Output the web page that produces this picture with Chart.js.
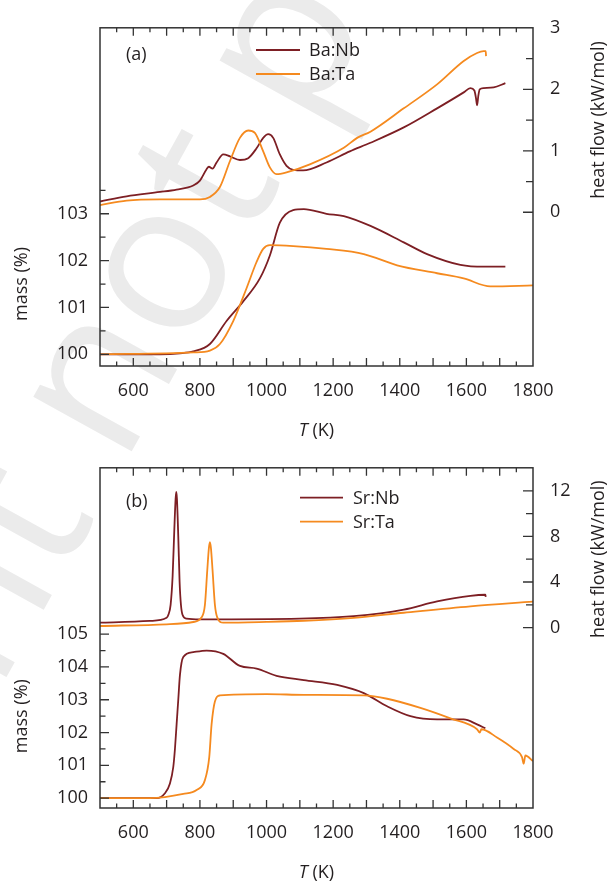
<!DOCTYPE html>
<html>
<head>
<meta charset="utf-8">
<script src="https://cdn.jsdelivr.net/npm/chart.js@4.4.1/dist/chart.umd.min.js"></script>
<style>
  html, body { margin: 0; padding: 0; background: #fff; }
  #wrap { position: relative; width: 608px; height: 882px; overflow: hidden; }
  #wm { position: absolute; left: 0; top: 0; }
  #ca { position: absolute; left: 0; top: 0; }
  #cb { position: absolute; left: 0; top: 440px; }
</style>
</head>
<body>
<div id="wrap">
  <canvas id="wm" width="608" height="882"></canvas>
  <canvas id="ca" width="608" height="440"></canvas>
  <canvas id="cb" width="608" height="442"></canvas>
</div>
<script>
// ---- measured curves: [T (K), value] ----
// panel (a) heat flow, kW/mol
const baNbHeat = [[500,0.175],[580,0.26],[680,0.33],[730,0.37],[780,0.435],[800,0.515],[820,0.70],[827,0.74],[838,0.71],[850,0.81],[870,0.94],[890,0.91],[920,0.85],[945,0.88],[970,1.04],[990,1.21],[1005,1.27],[1020,1.21],[1040,0.94],[1060,0.755],[1080,0.69],[1110,0.68],[1180,0.81],[1250,0.99],[1312,1.13],[1412,1.38],[1512,1.69],[1592,1.95],[1612,2.02],[1624,1.98],[1629,1.85],[1632,1.74],[1636,1.9],[1640,2.0],[1652,2.02],[1682,2.03],[1717,2.10]];
const baTaHeat = [[500,0.116],[580,0.19],[680,0.21],[800,0.21],[830,0.25],[860,0.41],[890,0.83],[920,1.21],[945,1.33],[965,1.29],[990,0.99],[1010,0.73],[1030,0.62],[1060,0.65],[1130,0.78],[1232,1.05],[1272,1.21],[1312,1.31],[1412,1.69],[1512,2.08],[1592,2.46],[1632,2.59],[1652,2.62],[1658,2.62],[1659,2.54]];
// panel (a) mass, %
const baNbMass = [[500,100],[680,100],[740,100.02],[780,100.06],[830,100.22],[880,100.71],[930,101.13],[980,101.62],[1010,102.11],[1040,102.81],[1080,103.08],[1112,103.1],[1180,103.0],[1232,102.95],[1312,102.74],[1412,102.39],[1482,102.14],[1582,101.91],[1652,101.87],[1717,101.87]];
const baTaMass = [[500,100],[780,100.04],[830,100.08],[860,100.22],[900,100.71],[940,101.41],[970,101.97],[990,102.25],[1010,102.33],[1080,102.31],[1180,102.25],[1292,102.14],[1392,101.9],[1512,101.73],[1592,101.62],[1672,101.45],[1800,101.47]];
// panel (b) heat flow, kW/mol
const srNbHeat = [[500,0.43],[650,0.58],[700,0.86],[705,1.1],[712,2.0],[718,4.5],[723,8.5],[727,11.3],[729,11.9],[731,11.3],[735,8.0],[739,4.0],[743,2.0],[748,1.1],[760,0.78],[800,0.72],[1100,0.78],[1262,1.0],[1412,1.58],[1512,2.3],[1612,2.79],[1657,2.88],[1658,2.7]];
const srTaHeat = [[500,0.14],[700,0.29],[780,0.49],[805,0.9],[815,2.0],[822,5.0],[827,7.0],[830,7.5],[833,7.0],[838,5.0],[845,2.0],[852,0.9],[870,0.43],[1000,0.5],[1112,0.6],[1262,0.85],[1412,1.3],[1612,1.87],[1800,2.27]];
// panel (b) mass, %
const srNbMass = [[500,100],[670,100],[695,100.15],[710,100.45],[720,100.95],[725,101.5],[730,102.25],[735,103.0],[740,103.75],[750,104.3],[780,104.45],[820,104.5],[870,104.4],[920,104.03],[970,103.95],[1030,103.73],[1112,103.6],[1212,103.45],[1292,103.2],[1362,102.8],[1432,102.5],[1512,102.4],[1592,102.4],[1632,102.25],[1657,102.13]];
const srTaMass = [[500,100],[650,100],[750,100.13],[790,100.25],[815,100.55],[828,101.25],[835,102.25],[845,102.95],[860,103.13],[1000,103.17],[1112,103.15],[1292,103.13],[1362,103.03],[1462,102.75],[1552,102.43],[1632,102.1],[1640,102.0],[1645,102.1],[1692,101.85],[1742,101.5],[1767,101.25],[1772,101.05],[1777,101.3],[1800,101.13]];

// ---- tick values ----
const tempLabels = [600, 800, 1000, 1200, 1400, 1600, 1800];
const tempMajor = [600, 700, 800, 900, 1000, 1100, 1200, 1300, 1400, 1500, 1600, 1700];
const tempMinor = [550, 650, 750, 850, 950, 1050, 1150, 1250, 1350, 1450, 1550, 1650, 1750];
const massLabelsA = [100, 101, 102, 103];
const massMinorA = [100.5, 101.5, 102.5, 103.5];
const heatLabelsA = [0, 1, 2, 3];
const heatMinorA = [0.5, 1.5, 2.5];
const massLabelsB = [100, 101, 102, 103, 104, 105];
const massMinorB = [100.5, 101.5, 102.5, 103.5, 104.5];
const heatLabelsB = [0, 4, 8, 12];
const heatMinorB = [2, 6, 10];

const FONT = '"Open Sans", "DejaVu Sans", sans-serif';
const INK = '#231f20';
const FRAME = '#333333';
const NB = '#7d1f24';
const TA = '#f58a1f';

const pts = arr => arr.map(([x, y]) => ({ x, y }));

// background wording, drawn beneath both panels
(function () {
  const c = document.getElementById('wm').getContext('2d');
  const text = 'Preprint not peer reviewed';
  c.font = '210px ' + FONT;
  const w1 = c.measureText('Preprint n').width;
  const wo = c.measureText('o').width;
  c.save();
  c.translate(167, 272);
  c.rotate(-61 * Math.PI / 180);
  c.fillStyle = '#ebebeb';
  c.textBaseline = 'alphabetic';
  c.fillText(text, -(w1 + wo / 2), 56);
  c.restore();
})();

// frame, inward ticks, axis titles, legend and panel tag
const decor = {
  id: 'decor',
  afterDatasetsDraw(chart, args, o) {
    const { ctx, chartArea: a, scales } = chart;
    ctx.save();
    ctx.strokeStyle = FRAME;
    ctx.lineWidth = 1.5;
    ctx.strokeRect(a.left, a.top, a.right - a.left, a.bottom - a.top);
    ctx.lineWidth = 1.3;
    ctx.beginPath();
    const xs = scales.x;
    const hTick = (v, L) => {
      const p = xs.getPixelForValue(v);
      ctx.moveTo(p, a.bottom); ctx.lineTo(p, a.bottom - L);
      ctx.moveTo(p, a.top); ctx.lineTo(p, a.top + L);
    };
    tempMajor.forEach(v => hTick(v, 8));
    tempMinor.forEach(v => hTick(v, 4.5));
    const lTick = (v, L) => {
      const p = scales.mass.getPixelForValue(v);
      ctx.moveTo(a.left, p); ctx.lineTo(a.left + L, p);
    };
    o.massMajor.forEach(v => lTick(v, 9));
    o.massMinor.forEach(v => lTick(v, 5.5));
    const rTick = (v, L) => {
      const p = scales.heat.getPixelForValue(v);
      ctx.moveTo(a.right, p); ctx.lineTo(a.right - L, p);
    };
    o.heatMajor.forEach(v => rTick(v, 10));
    o.heatMinor.forEach(v => rTick(v, 7));
    ctx.stroke();

    // axis titles
    ctx.fillStyle = INK;
    ctx.font = '18px ' + FONT;
    ctx.textAlign = 'center';
    ctx.textBaseline = 'middle';
    ctx.save();
    ctx.translate(22, scales.mass.getPixelForValue(o.massMid));
    ctx.rotate(-Math.PI / 2);
    ctx.fillText('mass (%)', 0, 0);
    ctx.restore();
    ctx.save();
    ctx.translate(599, scales.heat.getPixelForValue(o.heatMid));
    ctx.rotate(-Math.PI / 2);
    ctx.fillText('heat flow (kW/mol)', 0, 0);
    ctx.restore();

    const cx = (a.left + a.right) / 2;
    const ty = a.bottom + 65;
    ctx.font = 'italic 18px ' + FONT;
    const wT = ctx.measureText('T').width;
    ctx.font = '18px ' + FONT;
    const wK = ctx.measureText(' (K)').width;
    const x0 = cx - (wT + wK) / 2;
    ctx.textAlign = 'left';
    ctx.font = 'italic 18px ' + FONT;
    ctx.fillText('T', x0, ty);
    ctx.font = '18px ' + FONT;
    ctx.fillText(' (K)', x0 + wT, ty);

    // panel tag
    ctx.fillText(o.tag, o.tagX, o.tagY);

    // legend, one entry per sample
    const seen = [];
    chart.data.datasets.forEach(d => {
      if (!seen.find(s => s.label === d.label)) seen.push(d);
    });
    seen.forEach((d, i) => {
      const y = o.legY + i * 24;
      ctx.strokeStyle = d.borderColor;
      ctx.lineWidth = 1.8;
      ctx.beginPath();
      ctx.moveTo(o.legX0, y); ctx.lineTo(o.legX1, y);
      ctx.stroke();
      ctx.fillStyle = INK;
      ctx.fillText(d.label, o.legText, y + 1);
    });
    ctx.restore();
  }
};

function line(label, data, color, axis, order) {
  return {
    label, data: pts(data), yAxisID: axis,
    borderColor: color, borderWidth: 1.8, pointRadius: 0,
    fill: false, cubicInterpolationMode: 'monotone', order
  };
}

const plain = v => String(v);

function makeChart(id, cfg) {
  const tickFont = { family: FONT, size: 18 };
  return new Chart(document.getElementById(id), {
    type: 'line',
    data: { datasets: cfg.datasets },
    plugins: [decor],
    options: {
      responsive: false,
      animation: false,
      events: [],
      layout: { padding: { top: cfg.padTop, left: 0, right: 0, bottom: 0 } },
      plugins: {
        legend: { display: false },
        tooltip: { enabled: false },
        decor: cfg.decor
      },
      scales: {
        x: {
          type: 'linear', min: 500, max: 1800,
          grid: { display: false, drawTicks: false },
          border: { display: false },
          ticks: { font: tickFont, color: INK, padding: 14, maxRotation: 0, autoSkip: false, callback: plain },
          afterBuildTicks: s => { s.ticks = tempLabels.map(v => ({ value: v })); },
          afterFit: s => { s.height = cfg.xHeight; }
        },
        mass: {
          type: 'linear', position: 'left', min: cfg.massMin, max: cfg.massMax,
          grid: { display: false, drawTicks: false },
          border: { display: false },
          ticks: { font: tickFont, color: INK, padding: 12, callback: plain },
          afterBuildTicks: s => { s.ticks = cfg.massLabels.map(v => ({ value: v })); },
          afterFit: s => { s.width = 100; }
        },
        heat: {
          type: 'linear', position: 'right', min: cfg.heatMin, max: cfg.heatMax,
          grid: { display: false, drawTicks: false },
          border: { display: false },
          ticks: { font: tickFont, color: INK, padding: 17, callback: plain },
          afterBuildTicks: s => { s.ticks = cfg.heatLabels.map(v => ({ value: v })); },
          afterFit: s => { s.width = 75; }
        }
      }
    }
  });
}

makeChart('ca', {
  padTop: 21, xHeight: 74,
  massMin: 99.75, massMax: 106.97, heatMin: -2.5, heatMax: 3,
  massLabels: massLabelsA, heatLabels: heatLabelsA,
  datasets: [
    line('Ba:Nb', baNbHeat, NB, 'heat', 1),
    line('Ba:Ta', baTaHeat, TA, 'heat', 0),
    line('Ba:Nb', baNbMass, NB, 'mass', 1),
    line('Ba:Ta', baTaMass, TA, 'mass', 0)
  ],
  decor: {
    massMajor: massLabelsA, massMinor: massMinorA,
    heatMajor: heatLabelsA.slice(0, 3), heatMinor: heatMinorA,
    massMid: 101.5, heatMid: 1.5,
    tag: '(a)', tagX: 126, tagY: 55,
    legX0: 256, legX1: 300, legText: 309, legY: 50
  }
});

makeChart('cb', {
  padTop: 23, xHeight: 74,
  massMin: 99.7, massMax: 110.07, heatMin: -15.83, heatMax: 14.02,
  massLabels: massLabelsB, heatLabels: heatLabelsB,
  datasets: [
    line('Sr:Nb', srNbHeat, NB, 'heat', 1),
    line('Sr:Ta', srTaHeat, TA, 'heat', 0),
    line('Sr:Nb', srNbMass, NB, 'mass', 1),
    line('Sr:Ta', srTaMass, TA, 'mass', 0)
  ],
  decor: {
    massMajor: massLabelsB, massMinor: massMinorB,
    heatMajor: heatLabelsB, heatMinor: heatMinorB,
    massMid: 102.5, heatMid: 6,
    tag: '(b)', tagX: 126, tagY: 62,
    legX0: 300, legX1: 343, legText: 353, legY: 57.7
  }
});
</script>
</body>
</html>
